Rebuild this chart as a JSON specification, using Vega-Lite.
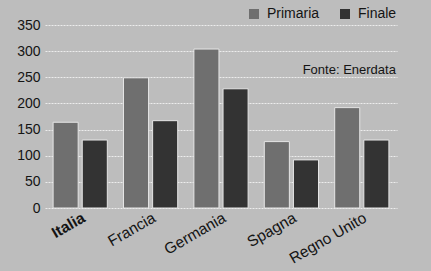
{
  "$schema": "https://vega.github.io/schema/vega-lite/v6.json",
  "width": 352,
  "height": 183,
  "autosize": {"type": "none"},
  "padding": {"left": 45, "top": 25, "right": 34, "bottom": 63},
  "background": "#bdbdbd",
  "config": {
    "view": {"stroke": null},
    "font": "Liberation Sans",
    "axis": {"labelFont": "Liberation Sans", "labelColor": "#141414"},
    "legend": {"labelFont": "Liberation Sans", "labelColor": "#141414"}
  },
  "datasets": {
    "energia": [
      {"paese": "Italia", "tipo": "Primaria", "valore": 164},
      {"paese": "Italia", "tipo": "Finale", "valore": 130},
      {"paese": "Francia", "tipo": "Primaria", "valore": 249},
      {"paese": "Francia", "tipo": "Finale", "valore": 167},
      {"paese": "Germania", "tipo": "Primaria", "valore": 304},
      {"paese": "Germania", "tipo": "Finale", "valore": 228},
      {"paese": "Spagna", "tipo": "Primaria", "valore": 127},
      {"paese": "Spagna", "tipo": "Finale", "valore": 92},
      {"paese": "Regno Unito", "tipo": "Primaria", "valore": 192},
      {"paese": "Regno Unito", "tipo": "Finale", "valore": 130}
    ],
    "fonte": [
      {"paese": "Regno Unito", "valore": 264, "testo": "Fonte: Enerdata"}
    ]
  },
  "layer": [
    {
      "data": {"name": "energia"},
      "mark": {"type": "bar", "stroke": "#e6e6e6", "strokeWidth": 1},
      "encoding": {
        "x": {
          "field": "paese",
          "type": "nominal",
          "sort": ["Italia", "Francia", "Germania", "Spagna", "Regno Unito"],
          "scale": {"domain": ["Italia", "Francia", "Germania", "Spagna", "Regno Unito"], "paddingInner": 0.23, "paddingOuter": 0.115},
          "axis": {
            "title": null,
            "labelAngle": -30,
            "labelFontSize": 15.5,
            "labelFontWeight": {"condition": {"test": "datum.value == 'Italia'", "value": "bold"}, "value": "normal"},
            "labelPadding": 2,
            "ticks": false,
            "domain": false
          }
        },
        "xOffset": {
          "field": "tipo",
          "type": "nominal",
          "sort": ["Primaria", "Finale"],
          "scale": {"paddingInner": 0.14, "paddingOuter": 0}
        },
        "y": {
          "field": "valore",
          "type": "quantitative",
          "scale": {"domain": [0, 350], "nice": false},
          "axis": {
            "title": null,
            "values": [0, 50, 100, 150, 200, 250, 300, 350],
            "labelOverlap": false,
            "labelFontSize": 14,
            "labelPadding": 5,
            "ticks": false,
            "domain": false,
            "gridColor": "#f2f2f2",
            "gridWidth": 1,
            "gridDash": [2, 1],
            "gridOpacity": 0.9
          }
        },
        "color": {
          "field": "tipo",
          "type": "nominal",
          "sort": ["Primaria", "Finale"],
          "scale": {"domain": ["Primaria", "Finale"], "range": ["#6f6f6f", "#333333"]},
          "legend": {
            "title": null,
            "orient": "none",
            "direction": "horizontal",
            "legendX": 202,
            "legendY": -18,
            "symbolType": "square",
            "symbolSize": 100,
            "symbolStrokeWidth": 0,
            "symbolOpacity": 1,
            "labelFontSize": 14,
            "labelOffset": 6,
            "columnPadding": 18
          }
        }
      }
    },
    {
      "data": {"name": "fonte"},
      "mark": {"type": "text", "align": "right", "baseline": "middle", "fontSize": 13, "dx": 7, "color": "#141414"},
      "encoding": {
        "x": {
          "field": "paese",
          "type": "nominal",
          "bandPosition": 1,
          "sort": ["Italia", "Francia", "Germania", "Spagna", "Regno Unito"],
          "axis": {
            "title": null,
            "labelAngle": -30,
            "labelFontSize": 15.5,
            "labelFontWeight": {"condition": {"test": "datum.value == 'Italia'", "value": "bold"}, "value": "normal"},
            "labelPadding": 2,
            "ticks": false,
            "domain": false
          }
        },
        "y": {
          "field": "valore",
          "type": "quantitative",
          "axis": {
            "title": null,
            "values": [0, 50, 100, 150, 200, 250, 300, 350],
            "labelOverlap": false,
            "labelFontSize": 14,
            "labelPadding": 5,
            "ticks": false,
            "domain": false,
            "gridColor": "#f2f2f2",
            "gridWidth": 1,
            "gridDash": [2, 1],
            "gridOpacity": 0.9
          }
        },
        "text": {"field": "testo"}
      }
    }
  ]
}
